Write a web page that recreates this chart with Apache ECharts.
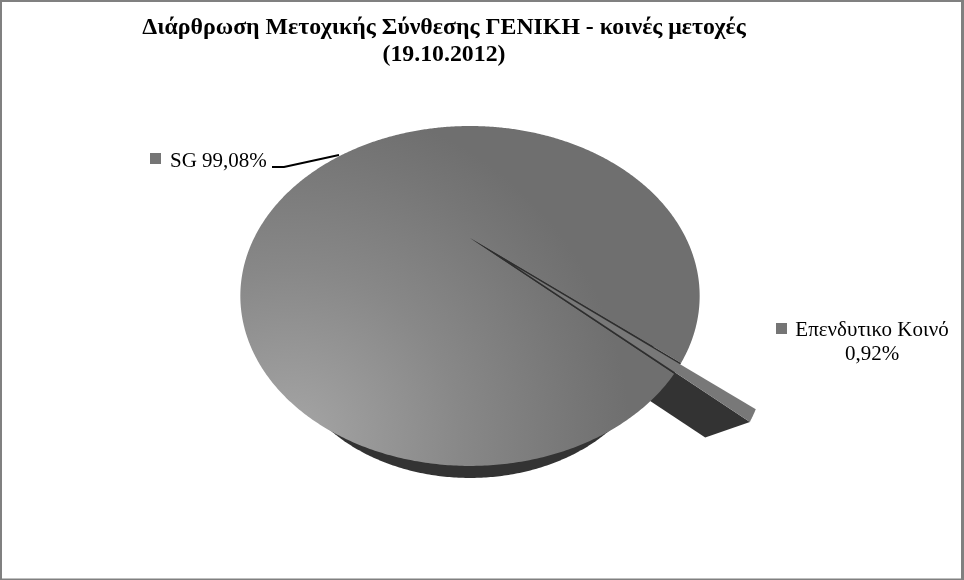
<!DOCTYPE html>
<html><head><meta charset="utf-8">
<style>html,body{margin:0;padding:0;background:#fff}#c{width:964px;height:580px}</style>
<script src="https://cdn.jsdelivr.net/npm/echarts@6/dist/echarts.min.js"></script>
</head><body><div id="c"></div>
<script>
const titleLines = ['Διάρθρωση Μετοχικής Σύνθεσης ΓΕΝΙΚΗ - κοινές μετοχές', '(19.10.2012)'];
const categories = ['SG', 'Επενδυτικο Κοινό'];
const values = [99.08, 0.92];
const valueLabels = ['99,08%', '0,92%'];
const firstSliceAngle = 133.7;

const chart = echarts.init(document.getElementById('c'), null, {renderer: 'canvas'});
const total = values.reduce((a, b) => a + b, 0);

// perspective projection of the pie plane onto the page
const A = {x: 470, y: 238}, K = 0.341, PA = 215.9, PB = 150.2;
function offsetPoint(deg, r, midDeg, e) {
  const t = deg * Math.PI / 180, m = midDeg * Math.PI / 180;
  const u = r * Math.sin(t) + e * Math.sin(m), v = -r * Math.cos(t) - e * Math.cos(m), w = 1 - K * v;
  return [A.x + PA * u / w, A.y + PB * v / w];
}
const project = (deg, r) => offsetPoint(deg, r, 0, 0);
const toward = (p, vp, t) => [p[0] + (vp[0] - p[0]) * t, p[1] + (vp[1] - p[1]) * t];
const SIDE = '#333333', TOPC = '#787878';
const mainFill = new echarts.graphic.RadialGradient(290, 440, 340, [
  {offset: 0, color: '#a6a6a6'}, {offset: 0.5, color: '#888888'},
  {offset: 0.85, color: '#767676'}, {offset: 1, color: '#6f6f6f'}], true);

function renderItem(params, api) {
  const idx = params.dataIndex;
  const val = api.value(1);
  let start = firstSliceAngle;
  for (let i = 0; i < idx; i++) start += values[i] / total * 360;
  const sweep = val / total * 360;
  const children = [];
  const arc = [];
  const n = Math.ceil(sweep * 2) + 4;
  if (idx === 0) {
    const rim = [];
    for (let i = 0; i <= 720; i++) rim.push(toward(project(i / 2, 1), [470, 526], 0.2));
    children.push({type: 'polygon', z2: 1, shape: {points: rim}, style: {fill: SIDE}});
    for (let i = 0; i <= n; i++) arc.push(project(start + sweep * i / n, 1));
    children.push({type: 'polygon', z2: 2, shape: {points: [[A.x, A.y]].concat(arc)}, style: {fill: mainFill}});
    // the gap left by the pulled-out slice
    const gap = [[A.x, A.y]];
    for (let i = 0; i <= 8; i++) gap.push(project(start + sweep + (360 - sweep) * i / 8, 1));
    children.push({type: 'polygon', z2: 3, shape: {points: gap}, style: {fill: '#2e2e2e'}});
  } else {
    const mid = start + sweep / 2, e = 0.258;
    const apex = offsetPoint(0, 0, mid, e);
    for (let i = 0; i <= n; i++) arc.push(offsetPoint(start + sweep * i / n, 1, mid, e));
    const vp = [601, 474], tt = 0.3;
    const last = arc[arc.length - 1];
    children.push({type: 'polygon', z2: 0, shape: {points: [apex, last, toward(last, vp, tt), toward(apex, vp, tt)]}, style: {fill: SIDE}});
    children.push({type: 'polygon', z2: 5, shape: {points: [apex].concat(arc)}, style: {fill: TOPC}});
  }
  return {type: 'group', children};
}

const keyText = [
  {key: [150, 153], text: categories[0] + ' ' + valueLabels[0], x: 170, y: 161, align: 'left'},
  {key: [776, 323], text: categories[1] + '\n' + valueLabels[1], x: 872, y: 342, align: 'center'}
];
const labelEls = [];
keyText.forEach(k => {
  labelEls.push({type: 'rect', shape: {x: k.key[0], y: k.key[1], width: 11, height: 11}, style: {fill: '#757575'}});
  labelEls.push({type: 'text', x: k.x, y: k.y, style: {text: k.text, fill: '#000', font: '21px "Liberation Serif"', lineHeight: 24, align: k.align, verticalAlign: 'middle'}});
});
const border = [[0, 0, 964, 2], [0, 0, 2, 580], [961, 0, 3, 580], [0, 578.5, 964, 1.5]];

chart.setOption({
  animation: false,
  backgroundColor: '#ffffff',
  title: {
    text: titleLines.join('\n'), left: 439, top: 9, textAlign: 'center',
    textStyle: {fontFamily: 'Liberation Serif', fontWeight: 'bold', fontSize: 23.8, lineHeight: 27, color: '#000'}
  },
  graphic: border.map(b => ({type: 'rect', shape: {x: b[0], y: b[1], width: b[2], height: b[3]}, style: {fill: '#808080'}, z: 20})).concat([
    {type: 'polyline', shape: {points: [[272, 167], [284, 167], [339, 155]]}, style: {stroke: '#000', lineWidth: 2, fill: 'none'}, z: 20}
  ]).concat(labelEls.map(e => Object.assign({z: 20}, e))),
  series: [{
    type: 'custom', coordinateSystem: 'none', renderItem, clip: false,
    data: categories.map((c, i) => ({name: c, value: [i, values[i]]}))
  }]
});
</script></body></html>
